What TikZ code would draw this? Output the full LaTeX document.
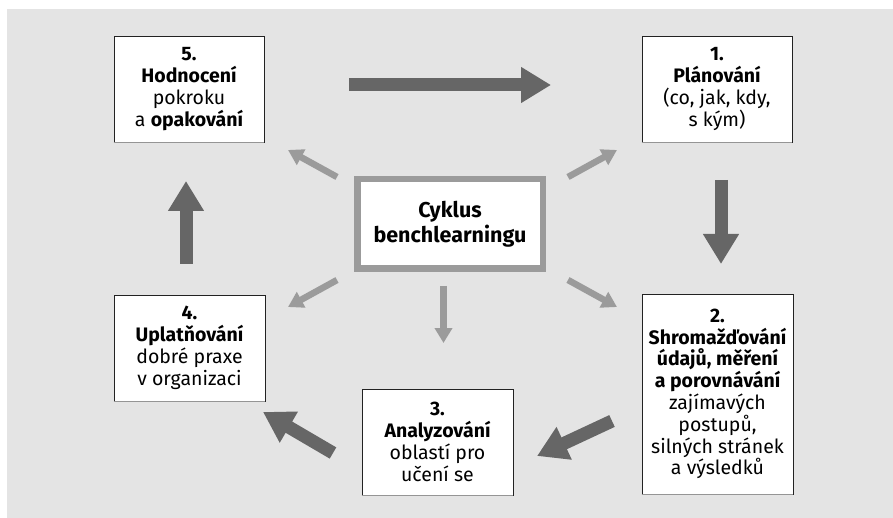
\documentclass[tikz,border=0pt]{standalone}
\usepackage{fontspec}
\setmainfont{Fira Sans}
\usetikzlibrary{arrows.meta}
\definecolor{bgpanel}{HTML}{E4E4E4}
\definecolor{darkarr}{HTML}{666666}
\definecolor{lightarr}{HTML}{9B9B9B}
\definecolor{boxedge}{HTML}{222222}
\definecolor{boxbase}{HTML}{959595}
\tikzset{
  stagebox/.style={draw=boxedge, line width=0.9pt, fill=white, align=center,
    inner sep=0pt, font=\fontsize{19.5}{21.8}\selectfont},
  hubbox/.style={draw=lightarr, line width=6.5pt, fill=white, align=center,
    inner sep=0pt, minimum width=185.5pt, minimum height=89.5pt,
    font=\bfseries\fontsize{21.5}{25}\selectfont},
  cyclearrow/.style={draw=darkarr, line width=13pt,
    -{Triangle[width=34pt,length=30pt]}},
  hubarrow/.style={draw=lightarr, line width=6.5pt,
    -{Triangle[width=17pt,length=15pt]}},
  baseline edge/.style={draw=boxbase, line width=1.6pt}
}
\begin{document}
\begin{tikzpicture}[x=1pt, y=-1pt]
  \useasboundingbox (0,0) rectangle (893,518);
  \fill[bgpanel] (7,9) rectangle (893,518);

  % stages of the cycle
  \node[stagebox, minimum width=150pt, minimum height=106pt] (s5) at (189,89)
    {\textbf{5.}\\\textbf{Hodnocení}\\pokroku\\a \textbf{opakování}};
  \node[stagebox, minimum width=150pt, minimum height=106pt] (s1) at (717,89)
    {\textbf{1.}\\\textbf{Plánování}\\(co, jak, kdy,\\s kým)};
  \node[stagebox, minimum width=151pt, minimum height=200pt] (s2) at (717.5,394)
    {\textbf{2.}\\\textbf{Shromažďování}\\\textbf{údajů, měření}\\\textbf{a porovnávání}\\zajímavých\\postupů,\\silných stránek\\a výsledků};
  \node[stagebox, minimum width=151pt, minimum height=106pt] (s3) at (437.5,442)
    {\textbf{3.}\\\textbf{Analyzování}\\oblastí pro\\učení se};
  \node[stagebox, minimum width=151pt, minimum height=106pt] (s4) at (189.5,348)
    {\textbf{4.}\\\textbf{Uplatňování}\\dobré praxe\\v organizaci};

  % grey lower edges of the stage boxes
  \foreach \b in {s1,s2,s3,s4,s5}
    \draw[baseline edge] (\b.south west) -- (\b.south east);

  % central hub
  \node[hubbox] (hub) at (450,224) {Cyklus\\benchlearningu};

  % end points of the cycle arrows
  \coordinate (c51a) at (349,85);  \coordinate (c51b) at (551,85);
  \coordinate (c12a) at (721,180); \coordinate (c12b) at (721,264);
  \coordinate (c23a) at (612,421); \coordinate (c23b) at (537,456);
  \coordinate (c34a) at (333,453); \coordinate (c34b) at (263,412);
  \coordinate (c45a) at (186,264); \coordinate (c45b) at (186,181);

  \draw[cyclearrow] (c51a) -- (c51b);
  \draw[cyclearrow] (c12a) -- (c12b);
  \draw[cyclearrow] (c23a) -- (c23b);
  \draw[cyclearrow] (c34a) -- (c34b);
  \draw[cyclearrow] (c45a) -- (c45b);

  % end points of the arrows leaving the hub
  \coordinate (h5a) at (337,177);   \coordinate (h5b) at (288,150);
  \coordinate (h1a) at (568,177);   \coordinate (h1b) at (617,150);
  \coordinate (h4a) at (337,280);   \coordinate (h4b) at (288,307);
  \coordinate (h2a) at (568,280);   \coordinate (h2b) at (617,307);
  \coordinate (h3a) at (443.5,286); \coordinate (h3b) at (443.5,343);

  \draw[hubarrow] (h5a) -- (h5b);
  \draw[hubarrow] (h1a) -- (h1b);
  \draw[hubarrow] (h4a) -- (h4b);
  \draw[hubarrow] (h2a) -- (h2b);
  \draw[hubarrow] (h3a) -- (h3b);
\end{tikzpicture}
\end{document}
